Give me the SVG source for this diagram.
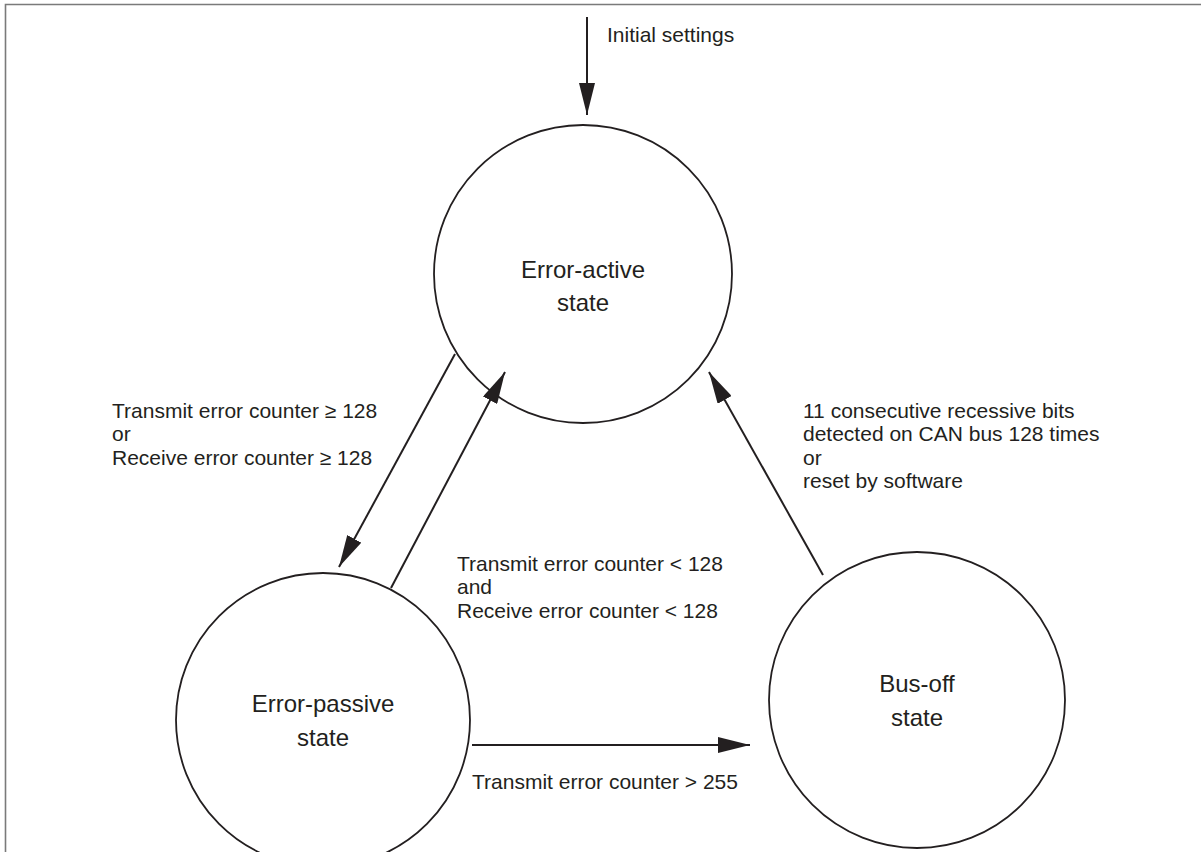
<svg xmlns="http://www.w3.org/2000/svg" width="1201" height="852" viewBox="0 0 1201 852">
<defs>
<marker id="ah" markerWidth="32" markerHeight="16" refX="32" refY="8" orient="auto" markerUnits="userSpaceOnUse">
<path d="M0,0 L32,8 L0,16 Z" fill="#231f20"/>
</marker>
<style>
.frame{fill:none;stroke:#7a7a7a;stroke-width:1.6}
.st{fill:#fff;stroke:#231f20;stroke-width:1.8}
.lbl{font-family:"Liberation Sans",Arial,sans-serif;font-size:24px;fill:#231f20;text-anchor:middle}
.t{font-family:"Liberation Sans",Arial,sans-serif;font-size:21px;fill:#231f20}
.c{fill:none;stroke:#231f20;stroke-width:2;marker-end:url(#ah)}
</style>
</defs>
<rect width="1201" height="852" fill="#fff"/>
<path class="frame" d="M5.5,860 L5.5,4.5 L1201,4.5"/>
<g id="error-active">
<circle class="st" cx="583" cy="274" r="149"/>
<text class="lbl" x="583" y="278">Error-active</text>
<text class="lbl" x="583" y="311">state</text>
</g>
<g id="error-passive">
<circle class="st" cx="323" cy="720" r="147"/>
<text class="lbl" x="323" y="712">Error-passive</text>
<text class="lbl" x="323" y="746">state</text>
</g>
<g id="bus-off">
<circle class="st" cx="917" cy="700" r="148"/>
<text class="lbl" x="917" y="692">Bus-off</text>
<text class="lbl" x="917" y="726">state</text>
</g>
<g id="connectors">
<line class="c" x1="587" y1="17" x2="587" y2="115"/>
<line class="c" x1="455" y1="354" x2="339" y2="567"/>
<line class="c" x1="391" y1="588" x2="505" y2="372"/>
<line class="c" x1="823" y1="575" x2="709" y2="372"/>
<line class="c" x1="472" y1="745" x2="750" y2="745"/>
</g>
<g id="labels">
<text class="t" x="607" y="42">Initial settings</text>
<text class="t" x="112" y="418">Transmit error counter ≥ 128</text>
<text class="t" x="112" y="441">or</text>
<text class="t" x="112" y="465">Receive error counter ≥ 128</text>
<text class="t" x="457" y="571">Transmit error counter &lt; 128</text>
<text class="t" x="457" y="594">and</text>
<text class="t" x="457" y="618">Receive error counter &lt; 128</text>
<text class="t" x="803" y="418">11 consecutive recessive bits</text>
<text class="t" x="803" y="441">detected on CAN bus 128 times</text>
<text class="t" x="803" y="465">or</text>
<text class="t" x="803" y="488">reset by software</text>
<text class="t" x="472" y="789">Transmit error counter &gt; 255</text>
</g>
</svg>
